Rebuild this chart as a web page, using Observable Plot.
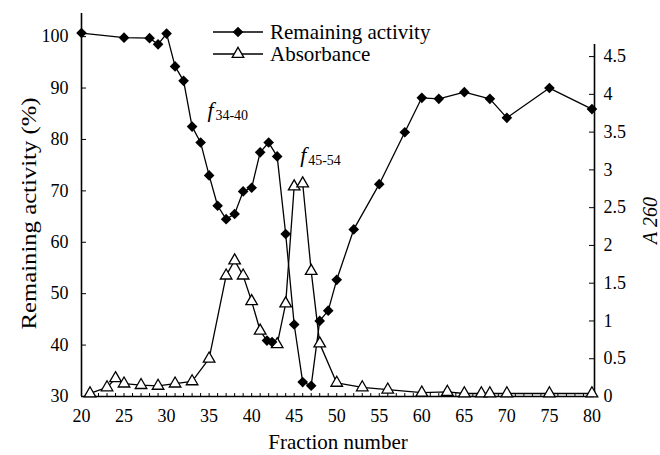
<!DOCTYPE html>
<html><head><meta charset="utf-8">
<script src="https://cdn.jsdelivr.net/npm/d3@7"></script>
<script src="https://cdn.jsdelivr.net/npm/@observablehq/plot@0.6"></script>
<style>
body{margin:0;background:#fff;}
#chart{position:relative;width:660px;height:455px;font-family:"Liberation Serif",serif;background:#fff;}
#chart svg{position:absolute;left:0;top:0;}
#chart svg, #chart svg text{font-family:"Liberation Serif",serif !important;}
</style></head><body><div id="chart"></div>
<script>
// Remaining activity (%) vs fraction number
const actFrac = [20,25,28,29,30,31,32,33,34,35,36,37,38,39,40,41,42,43,44,45,46,47,48,49,50,52,55,58,60,62,65,68,70,75,80];
const actVal  = [100.7,99.8,99.7,98.5,100.6,94.2,91.4,82.5,79.4,73.0,67.1,64.5,65.5,69.9,70.6,77.5,79.4,76.7,61.6,44.0,32.8,32.1,44.7,46.7,52.7,62.5,71.3,81.4,88.1,87.9,89.2,87.9,84.2,90.0,85.9];
// Absorbance A260 vs fraction number
const absFrac = [21,23,24,25,27,29,31,33,35,37,38,39,40,41,41.8,42.4,43,44,45,46,47,48,50,53,56,60,63,65,67,68,70,75,80];
const absVal  = [0.04,0.12,0.24,0.17,0.15,0.14,0.17,0.2,0.5,1.6,1.8,1.6,1.26,0.87,0.74,0.72,0.69,1.23,2.78,2.82,1.66,0.7,0.18,0.12,0.09,0.05,0.06,0.04,0.04,0.04,0.04,0.04,0.04];
const absFilledFrac = [41.8,42.4];   // points drawn with filled markers in the original
const xTicks = [20,25,30,35,40,45,50,55,60,65,70,75,80];
const minorTicks = d3.range(20,81,1);
const leftTicks = [30,40,50,60,70,80,90,100];
const rightTicks = [0,0.5,1,1.5,2,2.5,3,3.5,4,4.5];
const seriesNames = ["Remaining activity","Absorbance"];
const annoFrac = [34.8,45.7];
const annoVal = [84.4,75.7];
const annoSub = ["34-40","45-54"];
const xLabel = "Fraction number", yLabel = "Remaining activity (%)", y2Label = "A 260";

const W=660,H=455,ML=81,MR=66,MB=59;
const xDomain=[20,80.3];
const font="Liberation Serif, serif";
const act = actFrac.map((f,i)=>({f,v:actVal[i]}));
const abs = absFrac.map((f,i)=>({f,a:absVal[i],filled:absFilledFrac.includes(f)}));
const anno = annoFrac.map((f,i)=>({f,v:annoVal[i],s:annoSub[i]}));

const plotA = Plot.plot({
  width:W,height:H,marginLeft:ML,marginRight:MR,marginTop:13,marginBottom:MB,
  style:{fontFamily:font,fontSize:"18px",color:"#000",background:"transparent"},
  x:{domain:xDomain},
  y:{domain:[30,104.5]},
  marks:[
    Plot.ruleX([xDomain[0]],{stroke:"#000",strokeWidth:1.6}),
    Plot.ruleY([30],{stroke:"#000",strokeWidth:1.6}),
    Plot.axisX({ticks:xTicks,tickSize:0,tickPadding:13,label:null,fontSize:18,fontFamily:font}),
    Plot.axisX({anchor:"top",frameAnchor:"bottom",ticks:minorTicks,tickSize:4,fill:"none",label:null,stroke:"#000"}),
    Plot.axisY({ticks:leftTicks,tickSize:0,tickPadding:13,label:null,fontSize:18,fontFamily:font}),
    Plot.axisY({anchor:"right",frameAnchor:"left",ticks:leftTicks,tickSize:4,fill:"none",label:null,stroke:"#000"}),
    Plot.text([xLabel],{frameAnchor:"bottom",dy:46,fontSize:21,fontFamily:font,textAnchor:"middle",lineAnchor:"middle"}),
    Plot.text([yLabel],{frameAnchor:"left",rotate:-90,dx:-53,dy:8.5,fontSize:22,fontFamily:font,textAnchor:"middle",lineAnchor:"middle"}),
    Plot.line(act,{x:"f",y:"v",stroke:"#000",strokeWidth:1.3}),
    Plot.dot(act,{x:"f",y:"v",symbol:"diamond2",r:4.8,fill:"#000",stroke:"none"}),
    Plot.text(anno,{x:"f",y:"v",text:()=>"f",fontStyle:"italic",fontSize:22,fontFamily:font,textAnchor:"start",lineAnchor:"bottom"}),
    Plot.text(anno,{x:"f",y:"v",text:"s",fontSize:14,fontFamily:font,textAnchor:"start",lineAnchor:"bottom",dx:8,dy:3})
  ]
});
d3.select(plotA).attr("font-family",font);
d3.select(plotA).selectAll("text").filter(function(){return this.textContent===yLabel;})
  .attr("textLength",232).attr("lengthAdjust","spacingAndGlyphs");

const plotB = Plot.plot({
  width:W,height:H,marginLeft:ML,marginRight:MR,marginTop:44,marginBottom:MB,
  style:{fontFamily:font,fontSize:"18px",color:"#000",background:"transparent"},
  x:{domain:xDomain,axis:null},
  y:{domain:[0,4.66],axis:null},
  marks:[
    Plot.ruleX([xDomain[1]],{stroke:"#000",strokeWidth:1.6}),
    Plot.axisY({anchor:"right",ticks:rightTicks,tickSize:0,tickPadding:9,tickFormat:d=>String(d),label:null,fontSize:18,fontFamily:font}),
    Plot.axisY({anchor:"left",frameAnchor:"right",ticks:rightTicks,tickSize:5,fill:"none",label:null,stroke:"#000"}),
    Plot.text([y2Label],{frameAnchor:"right",rotate:-90,dx:56,dy:0,fontSize:20,fontFamily:font,fontStyle:"italic",textAnchor:"middle",lineAnchor:"middle"}),
    Plot.line(abs,{x:"f",y:"a",stroke:"#000",strokeWidth:1.3}),
    Plot.dot(abs.filter(d=>!d.filled),{x:"f",y:"a",symbol:"triangle",r:4.3,fill:"white",stroke:"#000",strokeWidth:1.3}),
    Plot.dot(abs.filter(d=>d.filled),{x:"f",y:"a",symbol:"diamond2",r:4.8,fill:"#000",stroke:"none"})
  ]
});
d3.select(plotB).attr("font-family",font);

const chart = document.getElementById("chart");
chart.appendChild(plotA);
chart.appendChild(plotB);

// Legend (inside the plot area, top centre)
const leg = d3.select(chart).append("svg").attr("width",W).attr("height",80)
  .style("position","absolute").style("left","0px").style("top","0px");
const symbols=[d3.symbolDiamond2,d3.symbolTriangle];
const sizes=[Math.PI*4.8*4.8,Math.PI*4.3*4.3];
seriesNames.forEach((name,i)=>{
  const g=leg.append("g").attr("transform",`translate(0,${32+i*22})`);
  g.append("line").attr("x1",213).attr("x2",263).attr("stroke","#000").attr("stroke-width",1.3);
  g.append("path").attr("transform","translate(238,0)")
    .attr("d",d3.symbol(symbols[i],sizes[i])())
    .attr("fill",i===0?"#000":"#fff").attr("stroke",i===0?"none":"#000").attr("stroke-width",1.3);
  g.append("text").attr("x",270).attr("dy","0.32em").attr("font-family",font).attr("font-size",21).text(name);
});
</script></body></html>
